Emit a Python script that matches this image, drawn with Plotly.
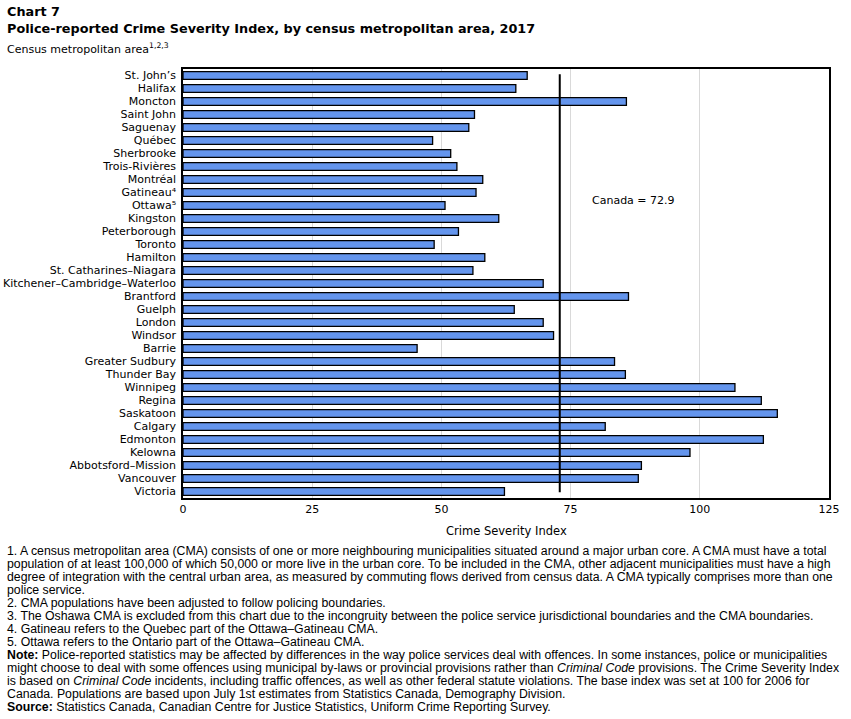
import plotly.graph_objects as go

cmas = ["St. John’s", "Halifax", "Moncton", "Saint John", "Saguenay", "Québec", "Sherbrooke",
        "Trois-Rivières", "Montréal", "Gatineau⁴", "Ottawa⁵", "Kingston", "Peterborough", "Toronto",
        "Hamilton", "St. Catharines–Niagara", "Kitchener–Cambridge–Waterloo", "Brantford", "Guelph",
        "London", "Windsor", "Barrie", "Greater Sudbury", "Thunder Bay", "Winnipeg", "Regina",
        "Saskatoon", "Calgary", "Edmonton", "Kelowna", "Abbotsford–Mission", "Vancouver", "Victoria"]
csi = [66.6, 64.4, 85.8, 56.4, 55.3, 48.3, 51.8, 53.0, 58.0, 56.7, 50.7, 61.1, 53.3, 48.6,
       58.4, 56.1, 69.7, 86.2, 64.1, 69.7, 71.7, 45.3, 83.5, 85.6, 106.8, 111.9, 115.0, 81.7,
       112.3, 98.1, 88.7, 88.1, 62.2]
canada = 72.9
x_ticks = [0, 25, 50, 75, 100, 125]

FONT = "DejaVu Sans"
L, R, T, B = 183, 22, 69, 221
W, H = 851, 719
PW, PH = W - L - R, H - T - B

def px(x):
    return (x - L) / PW

def py(y):
    return (H - B - y) / PH

fig = go.Figure()
fig.add_trace(go.Bar(
    y=cmas, x=csi, orientation="h",
    marker=dict(color="#6495ED", line=dict(color="black", width=1.3)),
    hoverinfo="x+y",
))

fig.add_shape(type="line", xref="x", yref="y", x0=canada, x1=canada, y0=-0.1, y1=len(cmas) - 0.95,
              line=dict(color="black", width=2))
fig.add_annotation(x=px(590), y=py(200), xref="paper", yref="paper", text="Canada = 72.9",
                   showarrow=False, xanchor="left", yanchor="middle",
                   font=dict(family=FONT, size=11, color="black"))

# titles
fig.add_annotation(x=px(5), y=py(12), xref="paper", yref="paper", text="<b>Chart 7</b>",
                   showarrow=False, xanchor="left", yanchor="middle",
                   font=dict(family=FONT, size=12.8, color="black"))
fig.add_annotation(x=px(5), y=py(28), xref="paper", yref="paper",
                   text="<b>Police-reported Crime Severity Index, by census metropolitan area, 2017</b>",
                   showarrow=False, xanchor="left", yanchor="middle",
                   font=dict(family=FONT, size=12.8, color="black"))
fig.add_annotation(x=px(5), y=py(48), xref="paper", yref="paper",
                   text="Census metropolitan area<sup>1,2,3</sup>",
                   showarrow=False, xanchor="left", yanchor="middle",
                   font=dict(family=FONT, size=11, color="black"))
fig.add_annotation(x=px(506), y=py(531), xref="paper", yref="paper", text="Crime Severity Index",
                   showarrow=False, xanchor="center", yanchor="middle",
                   font=dict(family=FONT, size=11.5, color="black"))

notes = [
    "1. A census metropolitan area (CMA) consists of one or more neighbouring municipalities situated around a major urban core. A CMA must have a total",
    "population of at least 100,000 of which 50,000 or more live in the urban core. To be included in the CMA, other adjacent municipalities must have a high",
    "degree of integration with the central urban area, as measured by commuting flows derived from census data. A CMA typically comprises more than one",
    "police service.",
    "2. CMA populations have been adjusted to follow policing boundaries.",
    "3. The Oshawa CMA is excluded from this chart due to the incongruity between the police service jurisdictional boundaries and the CMA boundaries.",
    "4. Gatineau refers to the Quebec part of the Ottawa–Gatineau CMA.",
    "5. Ottawa refers to the Ontario part of the Ottawa–Gatineau CMA.",
    "<b>Note:</b> Police-reported statistics may be affected by differences in the way police services deal with offences. In some instances, police or municipalities",
    "might choose to deal with some offences using municipal by-laws or provincial provisions rather than <i>Criminal Code</i> provisions. The Crime Severity Index",
    "is based on <i>Criminal Code</i> incidents, including traffic offences, as well as other federal statute violations. The base index was set at 100 for 2006 for",
    "Canada. Populations are based upon July 1st estimates from Statistics Canada, Demography Division.",
    "<b>Source:</b> Statistics Canada, Canadian Centre for Justice Statistics, Uniform Crime Reporting Survey.",
]
for i, line in enumerate(notes):
    fig.add_annotation(x=px(5), y=py(551 + 13 * i), xref="paper", yref="paper", text=line,
                       showarrow=False, xanchor="left", yanchor="middle",
                       font=dict(family="Liberation Sans", size=12.3, color="black"))

fig.update_layout(
    width=W, height=H,
    margin=dict(l=L, r=R, t=T, b=B, pad=0),
    plot_bgcolor="white", paper_bgcolor="white",
    showlegend=False, bargap=0.4,
    font=dict(family=FONT, size=11, color="black"),
    xaxis=dict(range=[0, 125], tickvals=x_ticks, ticks="", showgrid=True, gridcolor="#d9d9d9",
               gridwidth=1, zeroline=False, showline=True, linecolor="black", linewidth=1.5,
               mirror=True, automargin=False, tickfont=dict(family=FONT, size=11)),
    yaxis=dict(autorange="reversed", ticks="", showgrid=False, showline=True, linecolor="black",
               linewidth=1.5, mirror=True, automargin=False, ticklabelstandoff=3,
               tickfont=dict(family=FONT, size=11)),
)

fig.write_html("out.html", config={"displayModeBar": False},
               post_script="document.body.style.margin='0';document.body.style.padding='0';")
